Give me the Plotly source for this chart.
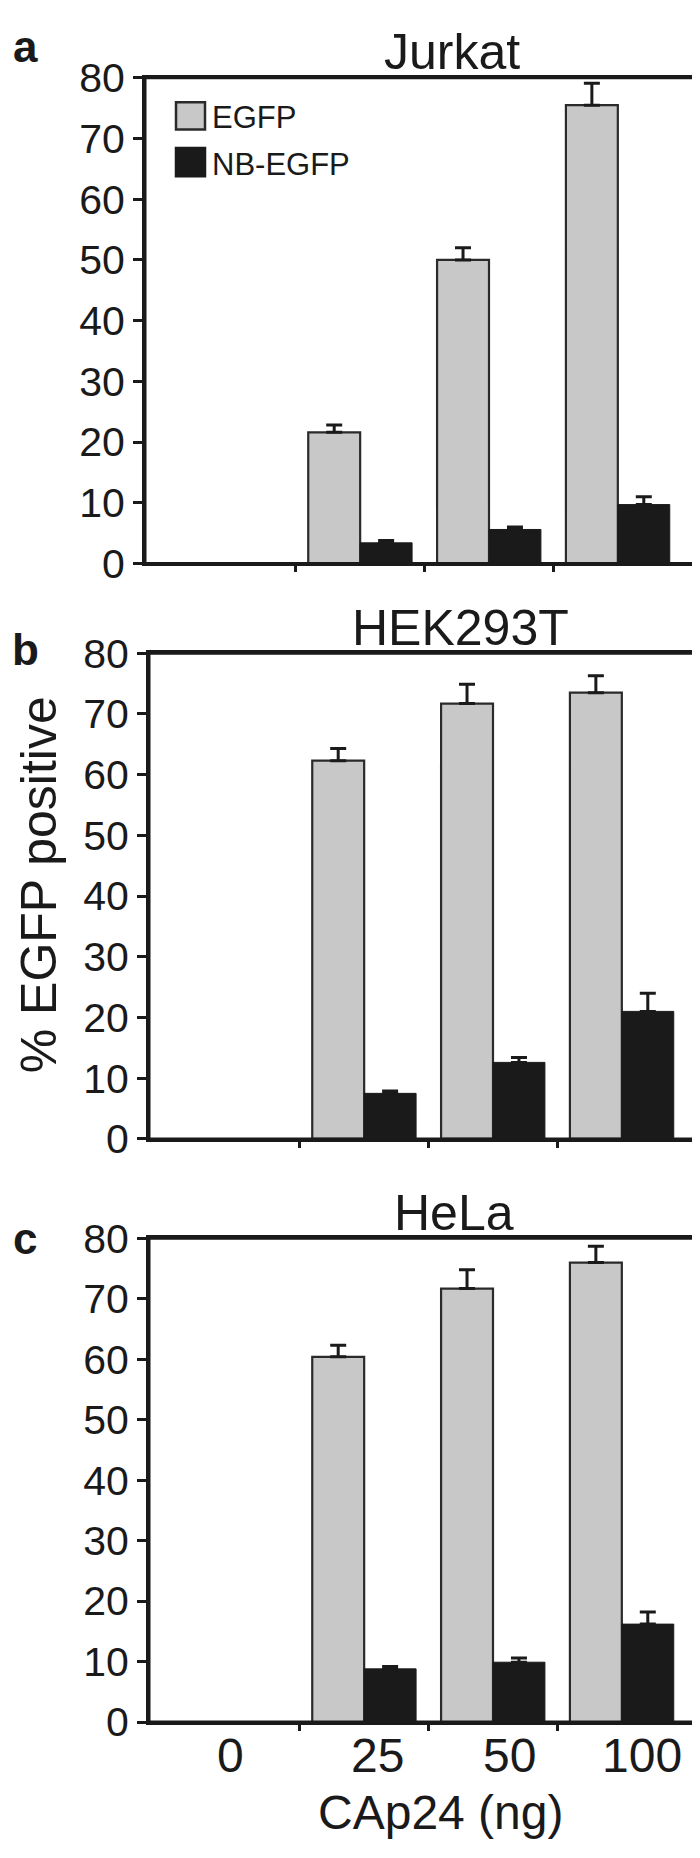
import plotly.graph_objects as go

# ---------------- data ----------------
categories = ["0", "25", "50", "100"]
series_names = ["EGFP", "NB-EGFP"]
panel_titles = ["Jurkat", "HEK293T", "HeLa"]
panel_letters = ["a", "b", "c"]

jurkat_egfp = [0, 21.6, 50.0, 75.5]
jurkat_egfp_err = [0, 1.2, 2.0, 3.6]
jurkat_nb = [0, 3.4, 5.6, 9.7]
jurkat_nb_err = [0, 0.4, 0.4, 1.3]

hek_egfp = [0, 62.3, 71.7, 73.5]
hek_egfp_err = [0, 2.0, 3.2, 2.8]
hek_nb = [0, 7.5, 12.6, 21.0]
hek_nb_err = [0, 0.4, 0.8, 3.0]

hela_egfp = [0, 60.4, 71.7, 76.0]
hela_egfp_err = [0, 1.9, 3.1, 2.7]
hela_nb = [0, 8.8, 9.9, 16.2]
hela_nb_err = [0, 0.4, 0.7, 2.0]

y_ticks = [0, 10, 20, 30, 40, 50, 60, 70, 80]
y_title = "% EGFP positive"
x_title = "CAp24 (ng)"

# ---------------- layout helpers ----------------
W, H = 700, 1858
def px(x):
    return x / W
def py(y):
    return 1 - y / H

FONT = "Liberation Sans, Arial, sans-serif"
INK = "#1a1a1a"
GREY = "#c8c8c8"

# plot-area pixel boxes (left, right, top, bottom)
boxes = [(137, 691, 48, 546), (141, 695, 638, 1136), (141, 695, 1238, 1734)]

panels = [
    (jurkat_egfp, jurkat_egfp_err, jurkat_nb, jurkat_nb_err),
    (hek_egfp, hek_egfp_err, hek_nb, hek_nb_err),
    (hela_egfp, hela_egfp_err, hela_nb, hela_nb_err),
]

def visible(vals):
    # zero-height bars are not drawn in the reference
    return [v if v > 0 else None for v in vals]

fig = go.Figure()
xpos = list(range(len(categories)))

for i, (eg, ege, nb, nbe) in enumerate(panels):
    xa = "x" if i == 0 else f"x{i+1}"
    ya = "y" if i == 0 else f"y{i+1}"
    fig.add_trace(go.Bar(
        x=xpos, y=visible(eg), name=series_names[0], xaxis=xa, yaxis=ya,
        marker=dict(color=GREY, line=dict(color="#2a2a2a", width=2.2)),
        error_y=dict(type="data", array=ege, arrayminus=[0] * len(ege),
                     symmetric=False, thickness=3, width=8, color=INK),
        offsetgroup="egfp", showlegend=False,
    ))
    fig.add_trace(go.Bar(
        x=xpos, y=visible(nb), name=series_names[1], xaxis=xa, yaxis=ya,
        marker=dict(color=INK, line=dict(color=INK, width=1)),
        error_y=dict(type="data", array=nbe, arrayminus=[0] * len(nbe),
                     symmetric=False, thickness=3, width=8, color=INK),
        offsetgroup="nb", showlegend=False,
    ))

layout = dict(
    width=W, height=H,
    margin=dict(l=0, r=0, t=0, b=0),
    paper_bgcolor="white", plot_bgcolor="white",
    barmode="group", bargap=0.194, bargroupgap=0,
    font=dict(family=FONT, color=INK),
)

shapes = []
for i, (l, r, t, b) in enumerate(boxes):
    xk = "xaxis" if i == 0 else f"xaxis{i+1}"
    yk = "yaxis" if i == 0 else f"yaxis{i+1}"
    ya = "y" if i == 0 else f"y{i+1}"
    xa = "x" if i == 0 else f"x{i+1}"
    layout[xk] = dict(
        domain=[px(l), px(r)], anchor=ya, range=[-0.67, 3.63],
        tickmode="array", tickvals=[0.5, 1.5, 2.5], ticktext=["", "", ""],
        ticks="outside", ticklen=6, tickwidth=2.5, tickcolor=INK,
        showline=True, mirror=True, linewidth=3, linecolor=INK,
        showgrid=False, zeroline=False, fixedrange=True,
    )
    layout[yk] = dict(
        domain=[py(b), py(t)], anchor=xa, range=[0, 80],
        tickmode="array", tickvals=y_ticks, ticktext=[str(v) for v in y_ticks],
        ticks="outside", ticklen=9, tickwidth=2.5, tickcolor=INK,
        tickfont=dict(size=41, family=FONT, color=INK),
        showline=True, mirror=True, linewidth=3, linecolor=INK,
        showgrid=False, zeroline=False, fixedrange=True,
    )
    # explicit frame around each panel
    shapes.append(dict(type="rect", xref=f"{xa} domain", yref=f"{ya} domain",
                       x0=0, x1=1, y0=0, y1=1, layer="above",
                       line=dict(color=INK, width=3), fillcolor="rgba(0,0,0,0)"))

fig.update_layout(**layout)

annotations = []
# panel titles
title_pos = [(444, 22), (452, 612), (446, 1212)]
for (tx, ty), txt in zip(title_pos, panel_titles):
    annotations.append(dict(x=px(tx), y=py(ty), xref="paper", yref="paper",
                            text=txt, showarrow=False,
                            font=dict(size=50, family=FONT, color=INK),
                            xanchor="center", yanchor="middle"))
# panel letters
letter_pos = [(17, 16), (17, 634), (17, 1238)]
for (lx, ly), txt in zip(letter_pos, panel_letters):
    annotations.append(dict(x=px(lx), y=py(ly), xref="paper", yref="paper",
                            text=f"<b>{txt}</b>", showarrow=False,
                            font=dict(size=44, family=FONT, color=INK),
                            xanchor="center", yanchor="middle"))
# y axis title
annotations.append(dict(x=px(31), y=py(876), xref="paper", yref="paper",
                        text=y_title, textangle=-90, showarrow=False,
                        font=dict(size=50, family=FONT, color=INK),
                        xanchor="center", yanchor="middle"))
# x tick labels (bottom panel)
label_shift = [-5, 13, 16, 20]
for xi, (cat, sh) in enumerate(zip(categories, label_shift)):
    annotations.append(dict(x=xi, y=py(1768), xref="x3", yref="paper",
                            text=cat, showarrow=False, xshift=sh,
                            font=dict(size=48, family=FONT, color=INK),
                            xanchor="center", yanchor="middle"))
# x title
annotations.append(dict(x=px(432), y=py(1827), xref="paper", yref="paper",
                        text=x_title, showarrow=False,
                        font=dict(size=48, family=FONT, color=INK),
                        xanchor="center", yanchor="middle"))

# legend (manual, panel a)
legend_rows = [(73, 101, GREY, "#2a2a2a"), (120, 149, INK, INK)]
for (y0, y1, fc, lc), name in zip(legend_rows, series_names):
    shapes.append(dict(type="rect", xref="paper", yref="paper",
                       x0=px(168), x1=px(197), y0=py(y1), y1=py(y0),
                       fillcolor=fc, line=dict(color=lc, width=2.5)))
    annotations.append(dict(x=px(202), y=py((y0 + y1) / 2 + 2), xref="paper", yref="paper",
                            text=name, showarrow=False,
                            font=dict(size=31, family=FONT, color=INK),
                            xanchor="left", yanchor="middle"))

fig.update_layout(annotations=annotations, shapes=shapes)

fig.write_html("out.html")
